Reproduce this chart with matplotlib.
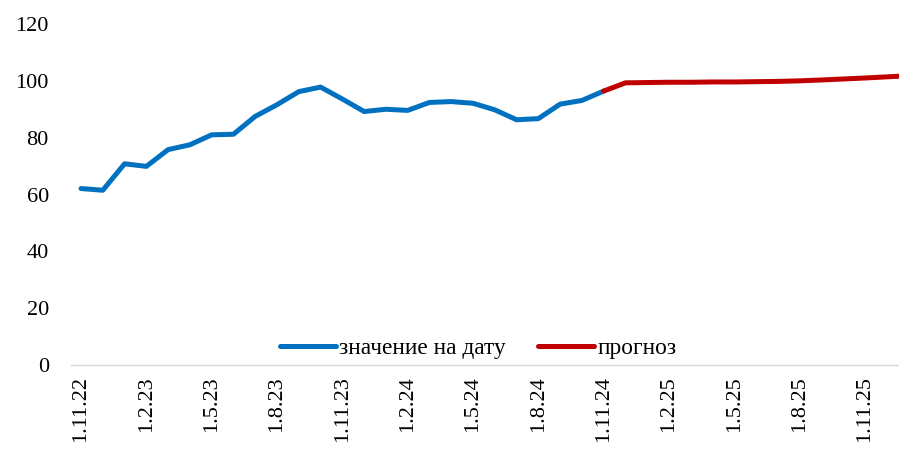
import matplotlib
matplotlib.use("Agg")
import matplotlib.pyplot as plt
import numpy as np

dates = ["1.11.22", "1.12.22", "1.1.23", "1.2.23", "1.3.23", "1.4.23", "1.5.23", "1.6.23",
         "1.7.23", "1.8.23", "1.9.23", "1.10.23", "1.11.23", "1.12.23", "1.1.24", "1.2.24",
         "1.3.24", "1.4.24", "1.5.24", "1.6.24", "1.7.24", "1.8.24", "1.9.24", "1.10.24",
         "1.11.24", "1.12.24", "1.1.25", "1.2.25", "1.3.25", "1.4.25", "1.5.25", "1.6.25",
         "1.7.25", "1.8.25", "1.9.25", "1.10.25", "1.11.25", "1.12.25", "1.1.26"]

actual = [62.1, 61.5, 70.8, 69.9, 75.8, 77.5, 81.0, 81.2, 87.5, 91.6, 96.2, 97.8,
          93.6, 89.2, 90.0, 89.6, 92.4, 92.7, 92.1, 89.8, 86.3, 86.7, 91.8, 93.1, 96.4]

forecast = [96.4, 99.3, 99.4, 99.5, 99.5, 99.6, 99.6, 99.7, 99.8, 100.0, 100.3, 100.65,
            101.0, 101.4, 101.8]

tick_every = 3

plt.rcParams['font.family'] = ['Liberation Serif', 'DejaVu Serif']

fig = plt.figure(figsize=(8.99, 4.49), dpi=100)
ax = fig.add_axes([71/899, 1-365/449, 1-71/899, (365-24)/449])

x = np.arange(len(dates))
x_act = x[:len(actual)]
x_fc = x[len(actual)-1:len(actual)-1+len(forecast)]

ax.plot(x_act, actual, color="#0070C0", lw=3.6, solid_capstyle="round",
        solid_joinstyle="round", label="значение на дату", zorder=3)
ax.plot(x_fc, forecast, color="#C00000", lw=3.6, solid_capstyle="round",
        solid_joinstyle="round", label="прогноз", zorder=3)

ax.set_xlim(-0.46, 37.56)
ax.set_ylim(0, 120)
ax.set_yticks(np.arange(0, 121, 20))
ax.set_xticks(x[::tick_every])
ax.set_xticklabels(dates[::tick_every], rotation=90, va="top", ha="center")

for s in ["top", "right", "left"]:
    ax.spines[s].set_visible(False)
ax.spines["bottom"].set_color("#d9d9d9")
ax.spines["bottom"].set_linewidth(1.0)
ax.tick_params(axis="both", length=0, labelsize=16, colors="black")
ax.tick_params(axis="y", pad=16)
ax.tick_params(axis="x", pad=8)

leg = ax.legend(loc="center", bbox_to_anchor=(478/899, 1-348/449),
                bbox_transform=fig.transFigure, ncol=2, frameon=False,
                fontsize=16.8, handlelength=2.4, handletextpad=0.13,
                columnspacing=1.4, borderpad=0)

fig.savefig("out.png", dpi=100)
